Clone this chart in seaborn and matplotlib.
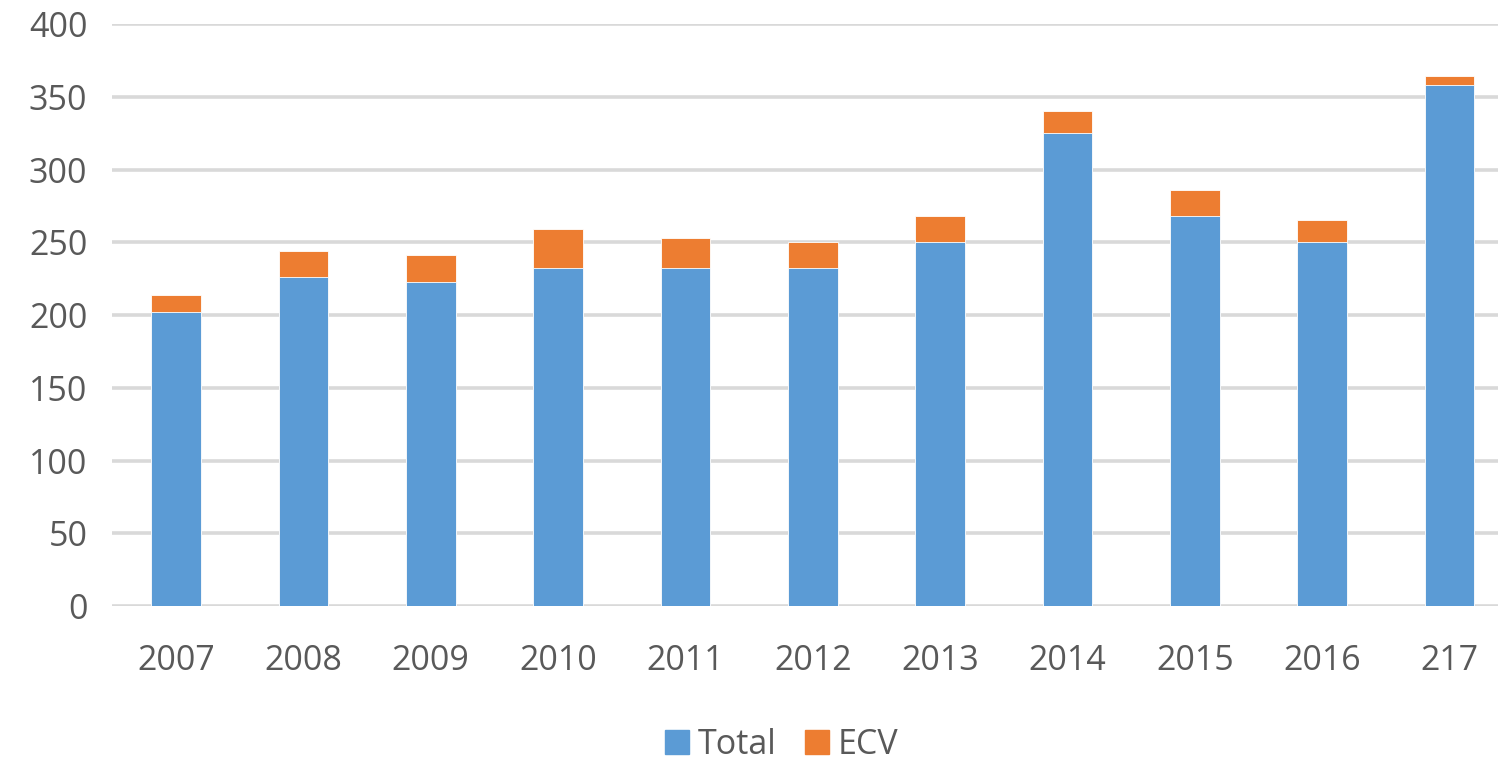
"""Stacked bar chart of yearly Total and ECV counts."""

import matplotlib

matplotlib.use("Agg")
import matplotlib.pyplot as plt
from matplotlib.patches import Patch
import pandas as pd
import seaborn as sns

YEARS = ["2007", "2008", "2009", "2010", "2011", "2012", "2013", "2014", "2015", "2016", "217"]
TOTAL = [202, 226, 223, 232, 232, 232, 250, 325, 268, 250, 358]
ECV = [12, 18, 18, 27, 21, 18, 18, 15, 18, 15, 6]

BLUE = "#5b9bd5"
ORANGE = "#ed7d31"
TEXT = "#595959"
GRID = "#d9d9d9"

sns.set_theme(style="white")
plt.rcParams["font.family"] = ["Open Sans", "DejaVu Sans"]


def main() -> None:
    df = pd.DataFrame({"year": YEARS, "total": TOTAL, "ecv": ECV})
    df["stack_top"] = df["total"] + df["ecv"]

    fig = plt.figure(figsize=(14.98, 7.62), dpi=100)
    ax = fig.add_axes([0.075, 0.2047, 0.925, 0.7638])

    sns.barplot(data=df, x="year", y="stack_top", color=ORANGE, saturation=1,
                width=0.39, edgecolor="white", linewidth=0.6, ax=ax, zorder=3)
    sns.barplot(data=df, x="year", y="total", color=BLUE, saturation=1,
                width=0.39, edgecolor="white", linewidth=0.6, ax=ax, zorder=3)

    ax.set_ylim(0, 400)
    ax.set_xlim(-0.5, 10.38)
    ax.set_yticks(range(0, 401, 50))
    ax.yaxis.grid(True, color=GRID, linewidth=2.6, zorder=0)
    ax.set_axisbelow(True)
    for spine in ax.spines.values():
        spine.set_visible(False)
    ax.set_xlabel("")
    ax.set_ylabel("")
    ax.tick_params(axis="both", length=0, labelsize=24.5, colors=TEXT)
    ax.tick_params(axis="x", pad=27)
    ax.tick_params(axis="y", pad=18)

    handles = [Patch(color=BLUE, label="Total"), Patch(color=ORANGE, label="ECV")]
    fig.legend(handles=handles, loc="center", bbox_to_anchor=(0.522, 0.022),
               ncol=2, frameon=False, fontsize=24.5, labelcolor=TEXT,
               handlelength=0.7, handleheight=0.7, handletextpad=0.25, columnspacing=0.85)

    fig.savefig("out.png", dpi=100)
    plt.close(fig)


if __name__ == "__main__":
    main()
